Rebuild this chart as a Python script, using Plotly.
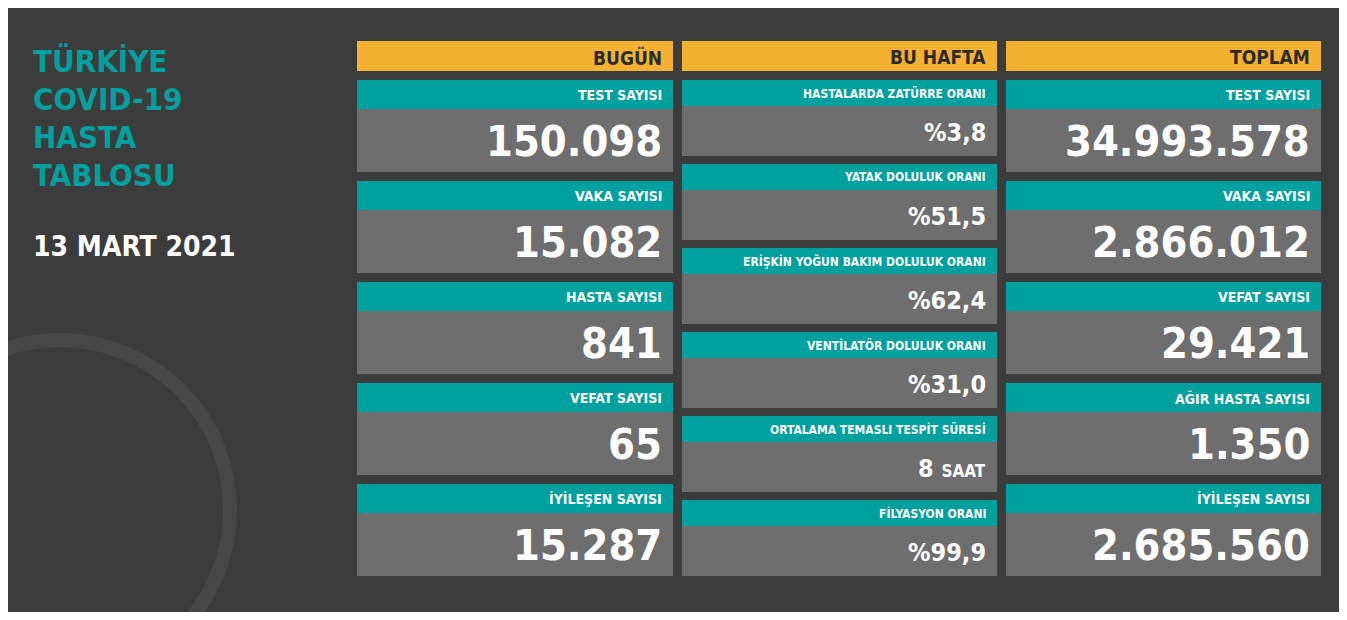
import plotly.graph_objects as go

# data
headers = ['BUGÜN', 'BU HAFTA', 'TOPLAM']
today_labels = ['TEST SAYISI', 'VAKA SAYISI', 'HASTA SAYISI', 'VEFAT SAYISI', 'İYİLEŞEN SAYISI']
today_values = ['150.098', '15.082', '841', '65', '15.287']
week_labels = ['HASTALARDA ZATÜRRE ORANI', 'YATAK DOLULUK ORANI', 'ERİŞKİN YOĞUN BAKIM DOLULUK ORANI',
               'VENTİLATÖR DOLULUK ORANI', 'ORTALAMA TEMASLI TESPİT SÜRESİ', 'FİLYASYON ORANI']
week_values = ['%3,8', '%51,5', '%62,4', '%31,0', '8 <span style="font-size:17px">SAAT</span>', '%99,9']
total_labels = ['TEST SAYISI', 'VAKA SAYISI', 'VEFAT SAYISI', 'AĞIR HASTA SAYISI', 'İYİLEŞEN SAYISI']
total_values = ['34.993.578', '2.866.012', '29.421', '1.350', '2.685.560']

FONT = 'Liberation Sans Narrow, DejaVu Sans Condensed, sans-serif'
TEAL = '#00a09e'
GRAY = '#6e6e6e'
ORANGE = '#f5b131'
BG = '#3c3c3c'

cols = [(357, 673), (682, 997), (1006, 1321)]
shapes = []
ann = []

def rect(x0, y0, x1, y1, color, **kw):
    shapes.append(dict(type='rect', xref='x', yref='y', x0=x0, x1=x1, y0=y0, y1=y1,
                       fillcolor=color, line=dict(width=0), layer='below', **kw))

def text(x, y, s, size, color='white', anchor='right'):
    ann.append(dict(x=x, y=y, xref='x', yref='y', text='<b>' + s + '</b>', showarrow=False,
                    xanchor=anchor, yanchor='middle', font=dict(family=FONT, size=size, color=color)))

rect(5, 6, 1342, 614, BG)
# faint emblem
shapes.append(dict(type='circle', xref='x', yref='y', x0=-110, x1=230, y0=340, y1=680,
                   line=dict(color='#474747', width=14), layer='below'))

for (x0, x1), h in zip(cols, headers):
    rect(x0, 41, x1, 71, ORANGE)
    text(x1 - 9, 57, h, 19, '#2b2b2b')

def big_cards(x0, x1, labels, values):
    for i, (lab, val) in enumerate(zip(labels, values)):
        top = 80 + i * 101
        rect(x0, top, x1, top + 29, TEAL)
        rect(x0, top + 29, x1, top + 92, GRAY)
        text(x1 - 9, top + 15, lab, 14)
        text(x1 - 9, top + 61, val, 43)

big_cards(*cols[0], today_labels, today_values)
big_cards(*cols[2], total_labels, total_values)

x0, x1 = cols[1]
for i, (lab, val) in enumerate(zip(week_labels, week_values)):
    top = 80 + i * 84
    rect(x0, top, x1, top + 26, TEAL)
    rect(x0, top + 26, x1, top + 76, GRAY)
    text(x1 - 9, top + 13, lab, 12)
    text(x1 - 9, top + 52, val, 25)

for j, line in enumerate(['TÜRKİYE', 'COVID-19', 'HASTA', 'TABLOSU']):
    text(31, 61 + j * 38, line, 31, TEAL, 'left')
text(31, 246, '13 MART 2021', 28, 'white', 'left')

# page body has an 8px margin, so the figure covers page pixels 8..1339 x 8..612
fig = go.Figure()
fig.update_layout(
    width=1331, height=604, margin=dict(l=0, r=0, t=0, b=0),
    paper_bgcolor='white', plot_bgcolor='white',
    xaxis=dict(range=[8, 1339], visible=False, fixedrange=True),
    yaxis=dict(range=[612, 8], visible=False, fixedrange=True),
    shapes=shapes, annotations=ann, showlegend=False,
)
fig.write_html('out.html')
